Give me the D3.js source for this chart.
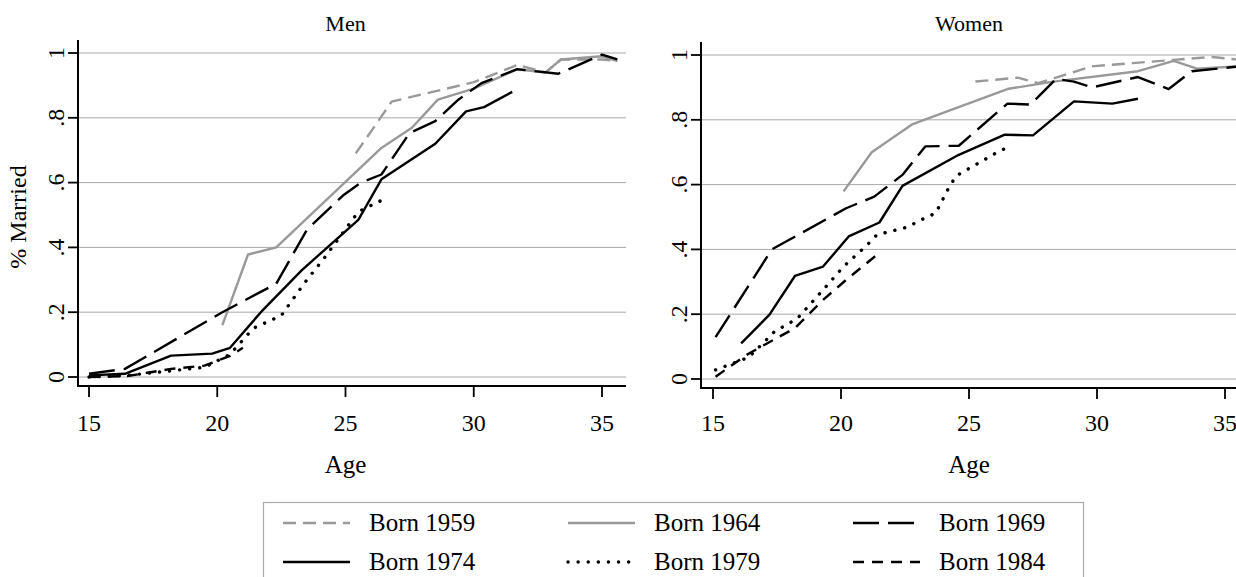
<!DOCTYPE html>
<html><head><meta charset="utf-8">
<script src="https://cdn.jsdelivr.net/npm/d3@7"></script>
<style>
body{margin:0;background:#fff;}
text{font-family:"Liberation Serif","Times New Roman",serif;fill:#000;}
</style></head>
<body><svg id="chart" width="1236" height="577"></svg>
<script>
// cohorts and their styles
const cohorts = ["Born 1959", "Born 1964", "Born 1969", "Born 1974", "Born 1979", "Born 1984"];
const xTicks = [15, 20, 25, 30, 35];
const yTicks = [0, .2, .4, .6, .8, 1];
const yTickLabels = ["0", ".2", ".4", ".6", ".8", "1"];

// [age, share married]
const men1959 = [[25.4,.69],[26.8,.85],[28.4,.88],[30,.91],[31.7,.963],[32.8,.94],[33.4,.98],[35,.98],[35.6,.975]];
const men1964 = [[20.2,.16],[21.2,.378],[22.3,.40],[26.4,.707],[27.6,.77],[28.6,.856],[30,.89],[31.7,.95],[32.8,.94],[33.4,.98],[35,.99],[35.6,.975]];
const men1969 = [[15,.01],[16.4,.025],[20.2,.2],[22.3,.288],[23.5,.455],[24.9,.56],[25.6,.60],[26.4,.625],[27.5,.753],[28.5,.79],[29.4,.856],[30.3,.907],[31.7,.95],[33.3,.936],[35,.995],[35.6,.98]];
const men1974 = [[15,.005],[16.4,.01],[18.2,.066],[19.8,.072],[20.5,.09],[21.7,.2],[23.3,.33],[25.5,.485],[26.4,.61],[28.5,.72],[29.7,.82],[30.4,.833],[31.5,.88]];
const men1979 = [[15,0],[16.5,.005],[18.3,.02],[19.5,.03],[20.5,.07],[21.4,.15],[22.5,.19],[23.4,.29],[24.2,.37],[25.5,.51],[26.4,.545]];
const men1984 = [[15,0],[16.5,.003],[18.2,.025],[19.5,.035],[20.5,.065],[21.0,.09]];

const women1959 = [[25.25,.918],[26.9,.93],[27.7,.913],[29.8,.965],[31.4,.975],[33,.985],[34.5,.994],[35.6,.985]];
const women1964 = [[20.1,.579],[21.2,.70],[22.8,.787],[26.5,.895],[28.3,.918],[31.6,.95],[33,.982],[33.9,.958],[35.6,.965]];
const women1969 = [[15.1,.129],[17.3,.40],[20.2,.527],[21.3,.563],[22.4,.63],[23.3,.718],[24.6,.72],[26.5,.85],[27.4,.847],[28.4,.926],[29.1,.918],[29.8,.90],[31.6,.932],[32.8,.895],[33.7,.95],[35.6,.965]];
const women1974 = [[16.1,.11],[17.2,.198],[18.2,.318],[19.3,.347],[20.3,.44],[21.5,.483],[22.4,.596],[24.6,.692],[26.4,.754],[27.5,.752],[29.1,.857],[30.6,.85],[31.6,.865]];
const women1979 = [[15.1,.028],[16.4,.067],[17.4,.146],[18.3,.187],[19.3,.275],[20.1,.347],[21.0,.412],[21.4,.445],[22.6,.469],[23.1,.49],[23.7,.512],[24.2,.589],[24.5,.627],[26,.695],[26.5,.715]];
const women1984 = [[15.1,.007],[16.3,.074],[17,.105],[18.2,.157],[19.3,.244],[20.2,.306],[21.4,.383]];

const styles = [
  {color: "#999", dash: "13,7", width: 2.4, cap: "butt"},
  {color: "#999", dash: null, width: 2.4, cap: "butt"},
  {color: "#000", dash: "26,9", width: 2.4, cap: "butt"},
  {color: "#000", dash: null, width: 2.4, cap: "butt"},
  {color: "#000", dash: "0.1,10", width: 3.4, cap: "round"},
  {color: "#000", dash: "11,8", width: 2.4, cap: "butt"}
];

const svg = d3.select("#chart");

function panel(title, series, axisX, x15, x35, right, yTop, yBottom) {
  const x = d3.scaleLinear().domain([15, 35]).range([x15, x35]);
  const y = d3.scaleLinear().domain([0, 1]).range([yBottom, yTop]);
  const xAxisY = yBottom + 9;
  const g = svg.append("g");
  const clipId = "clip" + title;
  svg.append("clipPath").attr("id", clipId).append("rect")
    .attr("x", axisX).attr("y", 0).attr("width", right - axisX).attr("height", 577);

  // grid
  g.selectAll(".grid").data(yTicks).join("line")
    .attr("x1", axisX).attr("x2", right)
    .attr("y1", d => y(d)).attr("y2", d => y(d))
    .attr("stroke", "#a8a8a8").attr("stroke-width", 1);

  const line = d3.line().x(d => x(d[0])).y(d => y(d[1]));
  const lines = g.append("g").attr("clip-path", `url(#${clipId})`);
  series.forEach((s, i) => {
    lines.append("path").attr("d", line(s))
      .attr("fill", "none").attr("stroke", styles[i].color)
      .attr("stroke-width", styles[i].width)
      .attr("stroke-dasharray", styles[i].dash)
      .attr("stroke-linecap", styles[i].cap)
      .attr("stroke-linejoin", "round");
  });

  // y axis
  g.append("line").attr("x1", axisX).attr("x2", axisX).attr("y1", yTop - 13).attr("y2", xAxisY + 1)
    .attr("stroke", "#000").attr("stroke-width", 2);
  g.selectAll(".yt").data(yTicks).join("line")
    .attr("x1", axisX - 10).attr("x2", axisX).attr("y1", d => y(d)).attr("y2", d => y(d))
    .attr("stroke", "#000").attr("stroke-width", 1.8);
  g.selectAll(".yl").data(yTicks).join("text")
    .attr("transform", d => `translate(${axisX - 14},${y(d)}) rotate(-90)`)
    .attr("text-anchor", "middle").attr("font-size", 24)
    .text((d, i) => yTickLabels[i]);

  // x axis
  g.append("line").attr("x1", axisX - 1).attr("x2", right).attr("y1", xAxisY).attr("y2", xAxisY)
    .attr("stroke", "#000").attr("stroke-width", 2);
  g.selectAll(".xt").data(xTicks).join("line")
    .attr("x1", d => x(d)).attr("x2", d => x(d)).attr("y1", xAxisY).attr("y2", xAxisY + 11)
    .attr("stroke", "#000").attr("stroke-width", 1.8);
  g.selectAll(".xl").data(xTicks).join("text")
    .attr("x", d => x(d)).attr("y", 431)
    .attr("text-anchor", "middle").attr("font-size", 24).text(d => d);

  g.append("text").attr("x", x(25)).attr("y", 473)
    .attr("text-anchor", "middle").attr("font-size", 25).text("Age");
  g.append("text").attr("x", x(25)).attr("y", 31)
    .attr("text-anchor", "middle").attr("font-size", 22).text(title);
}

panel("Men", [men1959, men1964, men1969, men1974, men1979, men1984], 78, 89, 602, 626, 53, 377);
panel("Women", [women1959, women1964, women1969, women1974, women1979, women1984], 701, 713, 1225, 1236, 55, 379);

svg.append("text").attr("transform", "translate(26,217) rotate(-90)")
  .attr("text-anchor", "middle").attr("font-size", 24).text("% Married");

// legend
svg.append("rect").attr("x", 263.5).attr("y", 502.5).attr("width", 820).attr("height", 100)
  .attr("fill", "#fff").attr("stroke", "#aaa").attr("stroke-width", 1.2);
const leg = svg.append("g").selectAll("g").data(cohorts).join("g")
  .attr("transform", (d, i) => `translate(${283 + (i % 3) * 285},${i < 3 ? 523 : 562})`);
leg.append("line").attr("x1", 0).attr("x2", 67).attr("y1", 0).attr("y2", 0)
  .attr("stroke", (d, i) => styles[i].color)
  .attr("stroke-width", (d, i) => styles[i].width)
  .attr("stroke-dasharray", (d, i) => styles[i].dash)
  .attr("stroke-linecap", (d, i) => styles[i].cap);
leg.append("text").attr("x", 86).attr("y", 8).attr("font-size", 25).text(d => d);
</script></body></html>
